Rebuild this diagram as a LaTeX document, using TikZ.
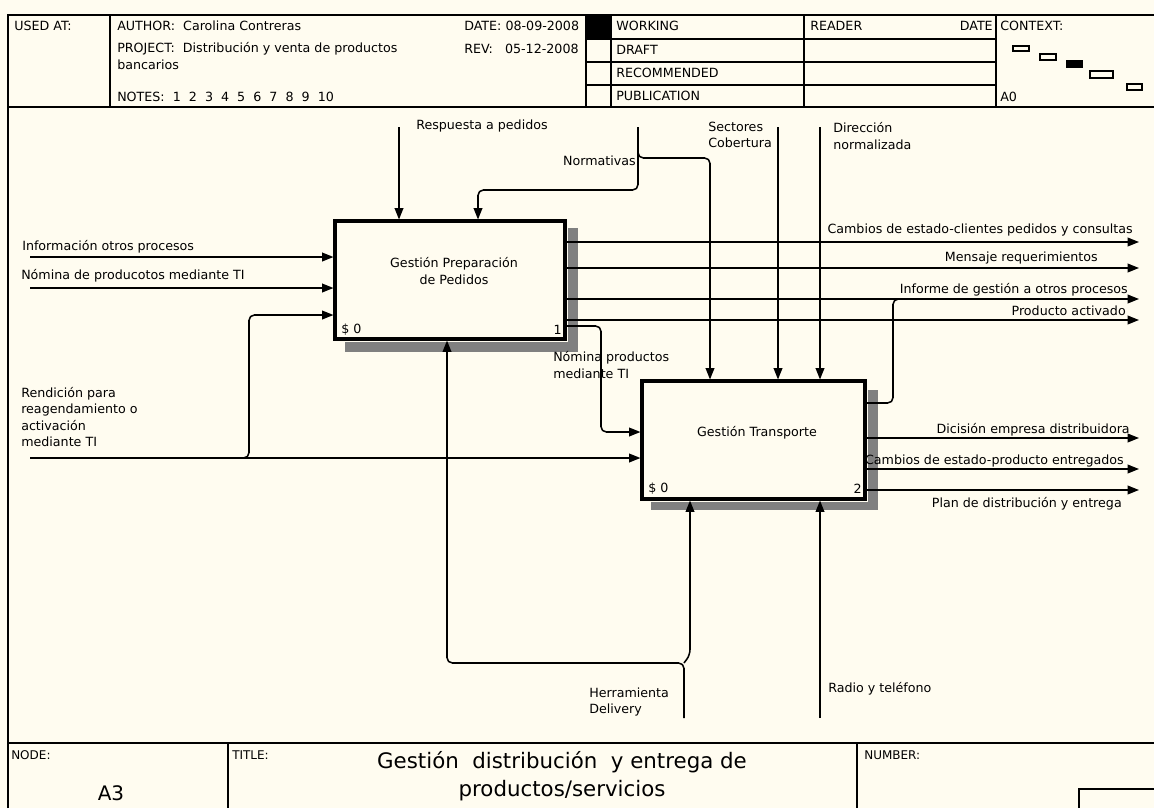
\documentclass[tikz,border=0pt]{standalone}
\usepackage{fontspec}
\setmainfont{DejaVu Sans}
\usetikzlibrary{arrows.meta,calc}
\definecolor{bgc}{RGB}{255,252,240}
\newcommand{\lblfont}{\fontsize{9.5pt}{12.4pt}\selectfont}
\newcommand{\ftsmall}{\fontsize{9pt}{11pt}\selectfont}
\newcommand{\ftbig}{\fontsize{16pt}{21pt}\selectfont}
\begin{document}
\begin{tikzpicture}[x=0.75pt,y=-0.75pt,
  lbl/.style={inner sep=0pt,font=\lblfont,text=black},
  hd/.style={lbl,anchor=west},
  frame/.style={line width=1.2pt,draw=black},
  conn/.style={line width=1.15pt,rounded corners=4pt},
  arr/.style={conn,-{Triangle[length=8.5pt,width=6.5pt]}},
  box/.style={draw,line width=2.3pt,fill=bgc,inner sep=0pt},
  shade/.style={fill=black!50},
  mini/.style={draw,line width=0.8pt,fill=bgc}]
\useasboundingbox (0,0) rectangle (1154,808);
\fill[bgc] (0,0) rectangle (1154,808);

% ---------- frame ----------
\draw[frame] (8,808) -- (8,15) -- (1154,15);
\draw[frame] (8,107) -- (1154,107);
\draw[frame] (110,15) -- (110,107);
\draw[frame] (586,15) -- (586,107);
\draw[frame] (611,15) -- (611,107);
\draw[frame] (804,15) -- (804,107);
\draw[frame] (996,15) -- (996,107);
\draw[frame] (586,39) -- (996,39) (586,62) -- (996,62) (586,85) -- (996,85);
\fill[black] (586,15) rectangle (611,39);
\draw[frame] (8,743) -- (1154,743);
\draw[frame] (228,743) -- (228,808);
\draw[frame] (857,743) -- (857,808);
\draw[frame] (1154,789) -- (1079,789) -- (1079,808);

% ---------- header text ----------
\node[hd] (hu) at (14,26) {USED AT:};
\node[hd] (ha) at (117,26) {AUTHOR:~~Carolina Contreras};
\node[hd] (hdt) at (464,26) {DATE:~08-09-2008};
\node[hd] (hp) at (117,49) {PROJECT:~~Distribución y venta de productos};
\node[hd] (hb) at (117,65) {bancarios};
\node[hd] (hr) at (464,49) {REV:~~~05-12-2008};
\node[hd] (hn) at (117,97) {NOTES:~~1~~2~~3~~4~~5~~6~~7~~8~~9~~10};
\node[hd] (sw) at (616,26) {WORKING};
\node[hd] (sd) at (616,50) {DRAFT};
\node[hd] (sr) at (616,73) {RECOMMENDED};
\node[hd] (sp) at (616,96) {PUBLICATION};
\node[hd] (rd) at (810,26) {READER};
\node[lbl,anchor=east] (rdt) at (993,26) {DATE};
\node[hd] (cx) at (1000,26) {CONTEXT:};
\node[hd] (ca) at (1000,97) {A0};
\draw[mini] (1013,46) rectangle (1029,51);
\draw[mini] (1040,54) rectangle (1056,60);
\fill[black] (1066,60) rectangle (1083,68);
\draw[mini] (1090,71) rectangle (1113,78);
\draw[mini] (1127,84) rectangle (1142,90);

% ---------- footer text ----------
\node[inner sep=0pt,font=\ftsmall,anchor=west] (fnode) at (11,755) {NODE:};
\node[inner sep=0pt,font=\fontsize{15pt}{18pt}\selectfont] (fa3) at (111,793) {A3};
\node[inner sep=0pt,font=\ftsmall,anchor=west] (ftit) at (232,755) {TITLE:};
\node[inner sep=0pt,font=\ftbig,align=center] (ftt) at (562,776) {Gestión~~distribución~~y entrega de\\productos/servicios};
\node[inner sep=0pt,font=\ftsmall,anchor=west] (fnum) at (864,755) {NUMBER:};

% ---------- boxes ----------
\node[box,minimum width=172.5pt,minimum height=88.5pt] (b1) at (450,280) {};
\node[box,minimum width=167.25pt,minimum height=88.5pt] (b2) at (753.5,440) {};
\fill[shade] ($(b1.north east)+(1.6,9)$) rectangle ($(b1.south east)+(11,11)$);
\fill[shade] ($(b1.south west)+(12,1.6)$) rectangle ($(b1.south east)+(11,11)$);
\fill[shade] ($(b2.north east)+(1.6,11)$) rectangle ($(b2.south east)+(11,9)$);
\fill[shade] ($(b2.south west)+(11,1.6)$) rectangle ($(b2.south east)+(11,9)$);
\node[lbl,align=center] (t1) at (454,271) {Gestión Preparación\\de Pedidos};
\node[lbl,anchor=west] (s1) at (341,330) {\$ 0};
\node[lbl,anchor=east] (n1) at (562,330) {1};
\node[lbl] (t2) at (757,433) {Gestión Transporte};
\node[lbl,anchor=west] (s2) at (648,489) {\$ 0};
\node[lbl,anchor=east] (n2) at (862,489) {2};

% ---------- inputs ----------
\coordinate (i1) at (30,257);
\draw[arr] (i1) -- (i1 -| b1.west);
\node[lbl,anchor=west] (li1) at (22,247) {Información otros procesos};
\coordinate (i2) at (30,288);
\draw[arr] (i2) -- (i2 -| b1.west);
\node[lbl,anchor=west] (li2) at (21,276) {Nómina de producotos mediante TI};
\coordinate (i3) at (30,458);
\draw[arr] (i3) -- (i3 -| b2.west);
\coordinate (j3) at (242,458);
\coordinate (i3b) at (249,315);
\draw[arr] (j3) -| (i3b) -- (i3b -| b1.west);
\node[lbl,anchor=west,align=left] (li3) at (21,417) {Rendición para\\reagendamiento o\\activación\\mediante TI};

% ---------- controls ----------
\coordinate (c1) at (399,127);
\draw[arr] (c1) -- (c1 |- b1.north);
\node[lbl,anchor=west] (lc1) at (416,126) {Respuesta a pedidos};
\coordinate (c2) at (638,127);
\coordinate (c2k) at (638,190);
\coordinate (c2a) at (478,190);
\draw[arr] (c2) -- (c2k) -- (c2a) -- (c2a |- b1.north);
\coordinate (c2j) at (638,150);
\coordinate (c2b) at (710,158);
\draw[arr] (c2j) |- (c2b) -- (c2b |- b2.north);
\node[lbl,anchor=east] (lc2) at (636,161) {Normativas};
\coordinate (c3) at (778,127);
\draw[arr] (c3) -- (c3 |- b2.north);
\node[lbl,anchor=west,align=left] (lc3) at (708,135) {Sectores\\Cobertura};
\coordinate (c4) at (820,127);
\draw[arr] (c4) -- (c4 |- b2.north);
\node[lbl,anchor=west,align=left] (lc4) at (833,136) {Dirección\\normalizada};

% ---------- outputs of box 1 ----------
\coordinate (o1) at (1139,242);
\draw[arr] (o1 -| b1.east) -- (o1);
\node[lbl,anchor=east] (lo1) at (1133,230) {Cambios de estado-clientes pedidos y consultas};
\coordinate (o2) at (1139,268);
\draw[arr] (o2 -| b1.east) -- (o2);
\node[lbl,anchor=east] (lo2) at (1098,258) {Mensaje requerimientos};
\coordinate (o3) at (1139,299);
\draw[arr] (o3 -| b1.east) -- (o3);
\node[lbl,anchor=east] (lo3) at (1128,290) {Informe de gestión a otros procesos};
\coordinate (o4) at (1139,320);
\draw[arr] (o4 -| b1.east) -- (o4);
\node[lbl,anchor=east] (lo4) at (1126,311) {Producto activado};
\coordinate (m0) at (601,326);
\coordinate (m1) at (601,432);
\draw[arr] (b1.east |- m0) -- (m0) -- (m1) -- (m1 -| b2.west);
\node[lbl,anchor=west,align=left] (lm) at (553,365) {Nómina productos\\mediante TI};

% ---------- outputs of box 2 ----------
\coordinate (f0) at (893,403);
\coordinate (f1) at (893,299);
\coordinate (f2) at (901,299);
\draw[conn] (b2.east |- f0) -- (f0) -- (f1) -- (f2);
\coordinate (p1) at (1139,438);
\draw[arr] (p1 -| b2.east) -- (p1);
\node[lbl,anchor=east] (lp1) at (1130,430) {Dicisión empresa distribuidora};
\coordinate (p2) at (1139,469);
\draw[arr] (p2 -| b2.east) -- (p2);
\node[lbl,anchor=east] (lp2) at (1124,461) {Cambios de estado-producto entregados};
\coordinate (p3) at (1139,490);
\draw[arr] (p3 -| b2.east) -- (p3);
\node[lbl,anchor=east] (lp3) at (1122,504) {Plan de distribución y entrega};

% ---------- mechanisms ----------
\coordinate (h0) at (684,718);
\coordinate (hj) at (684,663);
\coordinate (hl) at (447,663);
\draw[arr] (h0) -- (hj) -- (hl) -- (hl |- b1.south);
\coordinate (hr) at (690,655);
\draw[arr] (hj) -- (hr) -- (hr |- b2.south);
\node[lbl,anchor=west,align=left] (lh) at (589,702) {Herramienta\\Delivery};
\coordinate (r0) at (820,718);
\draw[arr] (r0) -- (r0 |- b2.south);
\node[lbl,anchor=west] (lr) at (828,689) {Radio y teléfono};
\end{tikzpicture}
\end{document}
